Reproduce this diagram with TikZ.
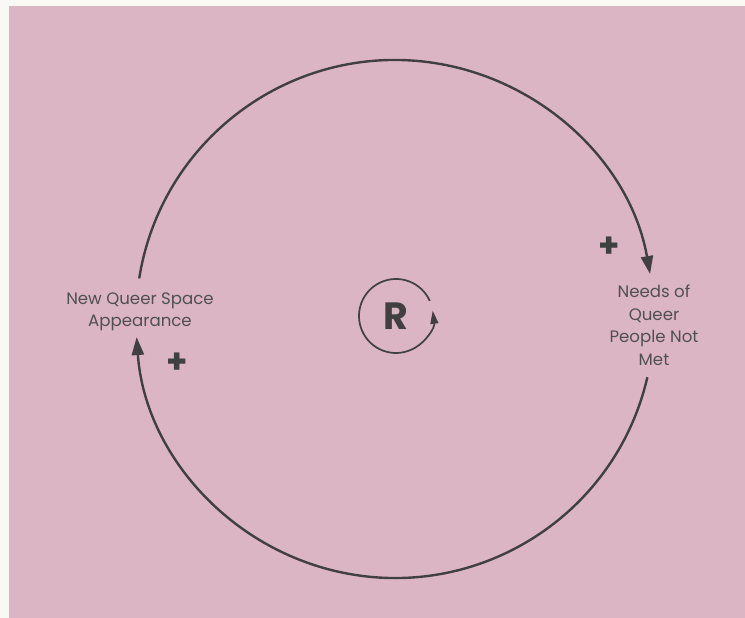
\documentclass[tikz,border=0pt]{standalone}
\usepackage{fontspec}
\setmainfont{Poppins}
\usetikzlibrary{arrows.meta,positioning,calc}
\definecolor{loopink}{HTML}{404040}
\definecolor{looptext}{HTML}{505050}
\definecolor{loopbg}{HTML}{DCB5C4}
\definecolor{pagebg}{HTML}{FAF8F4}
\tikzset{
  varlabel/.style={
    align=center, text=looptext, inner sep=1pt,
    font=\fontsize{16.6}{22.5}\selectfont
  },
  polarity/.style={
    text=loopink, inner sep=0pt,
    font=\fontsize{34}{34}\selectfont\bfseries
  },
  looptag/.style={
    text=loopink, inner sep=0pt,
    font=\fontsize{38}{38}\selectfont\bfseries
  },
  link/.style={draw=loopink, line width=2.4pt,
    -{Triangle[length=18pt,width=12pt]}},
  swirl/.style={draw=loopink, line width=1.7pt,
    -{Triangle[length=13pt,width=8pt]}}
}
\begin{document}
\begin{tikzpicture}[x=1pt,y=1pt]

  % Page and background panel
  \fill[pagebg] (0,0) rectangle (745,618);
  \fill[loopbg] (9,0) rectangle (745,612);
  \useasboundingbox (0,0) rectangle (745,618);

  % Centre of the loop
  \coordinate (mid) at (395,299);

  % Variables
  \node[varlabel] (space) at (140,306) {New Queer Space\\Appearance};
  \node[varlabel] (needs) at (654,293) {Needs of\\Queer\\People Not\\Met};

  % Causal links, drawn as arcs of one circle
  \draw[link] ($(mid)+(171:259)$) arc[start angle=171, end angle=10, radius=259];
  \draw[link] ($(mid)+(-13:259)$) arc[start angle=-13, end angle=-176, radius=259];

  % Link polarities
  \node[polarity] (plusA) at (609,371) {+};
  \node[polarity] (plusB) at (177,255) {+};

  % Loop identifier
  \node[looptag] (tag) at (396,302) {R};
  \draw[swirl] ($(tag.center)+(24:37)$) arc[start angle=24, end angle=368, radius=37];

\end{tikzpicture}
\end{document}
